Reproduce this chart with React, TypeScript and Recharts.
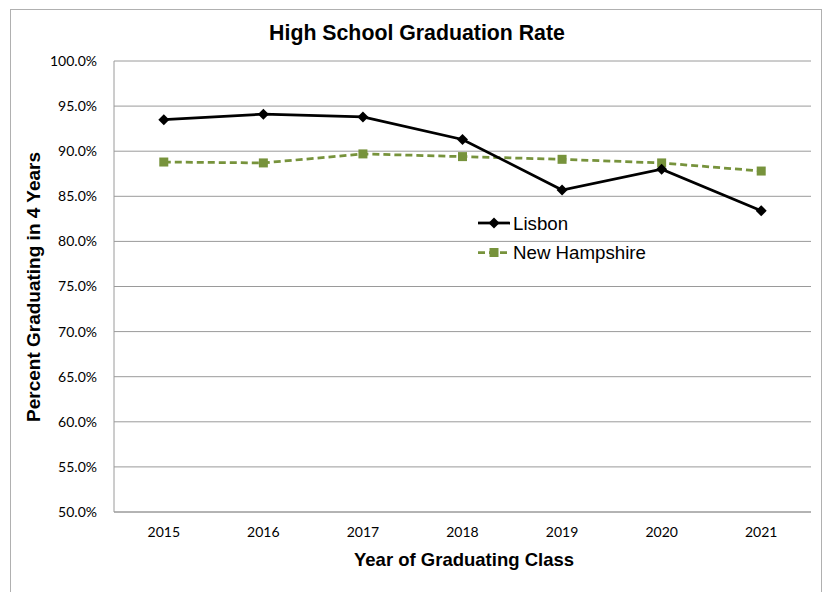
import React from "react";
import { LineChart, Line, XAxis, YAxis, CartesianGrid } from "recharts";

const years = ["2015", "2016", "2017", "2018", "2019", "2020", "2021"];
const lisbon = [93.5, 94.1, 93.8, 91.3, 85.7, 88.0, 83.4];
const newHampshire = [88.8, 88.7, 89.7, 89.4, 89.1, 88.7, 87.8];
const yTicks = [50, 55, 60, 65, 70, 75, 80, 85, 90, 95, 100];

const data = years.map((y, i) => ({ year: y, Lisbon: lisbon[i], NH: newHampshire[i] }));

const GREEN = "#77933C";
const ARIAL = "'Liberation Sans', Arial, sans-serif";

const Diamond = (props: any) => {
  const { cx, cy } = props;
  if (cx == null || cy == null) return null;
  const r = 5.5;
  return <polygon points={`${cx},${cy - r} ${cx + r},${cy} ${cx},${cy + r} ${cx - r},${cy}`} fill="#000" />;
};

const Square = (props: any) => {
  const { cx, cy } = props;
  if (cx == null || cy == null) return null;
  const s = 9;
  return <rect x={cx - s / 2} y={cy - s / 2} width={s} height={s} fill={GREEN} />;
};

const LegendContent = () => (
  <svg width={200} height={60} style={{ overflow: "visible", display: "block" }}>
    <line x1={1} y1={13} x2={33} y2={13} stroke="#000" strokeWidth={2.75} />
    <polygon points="17,7.5 22.5,13 17,18.5 11.5,13" fill="#000" />
    <text x={36} y={19.5} fontFamily={ARIAL} fontSize={18.7} fill="#000">Lisbon</text>
    <line x1={1} y1={42.5} x2={33} y2={42.5} stroke={GREEN} strokeWidth={2.75} strokeDasharray="7 4" />
    <rect x={12.5} y={38} width={9} height={9} fill={GREEN} />
    <text x={36} y={48.8} fontFamily={ARIAL} fontSize={18.7} fill="#000">New Hampshire</text>
  </svg>
);

export default function App() {
  return (
    <div style={{ position: "absolute", left: 0, top: 0, width: 827, height: 592, background: "#fff", overflow: "hidden" }}>
      <div style={{ position: "absolute", left: 10, top: 9, width: 812, height: 600, border: "1px solid #b0b0b0", boxSizing: "border-box" }} />
      <div style={{ position: "absolute", left: 0, top: 0 }}>
        <LineChart width={827} height={592} data={data} margin={{ top: 61, right: 16, bottom: 50, left: 54 }}>
          <text x={417} y={40} textAnchor="middle" fontFamily={ARIAL} fontWeight="bold" fontSize={21.3} fill="#000">
            High School Graduation Rate
          </text>
          <text x={464} y={566} textAnchor="middle" fontFamily={ARIAL} fontWeight="bold" fontSize={18.5} fill="#000">
            Year of Graduating Class
          </text>
          <text x={40} y={287} transform="rotate(-90, 40, 287)" textAnchor="middle" fontFamily={ARIAL} fontWeight="bold" fontSize={19} fill="#000">
            Percent Graduating in 4 Years
          </text>
          <CartesianGrid vertical={false} stroke="#9a9a9a" strokeWidth={1} />
          <XAxis
            dataKey="year"
            scale="band"
            stroke="#9a9a9a"
            tickLine={false}
            tickSize={0}
            tickMargin={15}
            tick={{ fill: "#000", fontSize: 14, fontFamily: "Lato" }}
          />
          <YAxis
            domain={[50, 100]}
            ticks={yTicks}
            width={60}
            stroke="#9a9a9a"
            tickLine={false}
            tickSize={0}
            tickMargin={17}
            tickFormatter={(v: number) => `${v.toFixed(1)}%`}
            tick={{ fill: "#000", fontSize: 14, fontFamily: "Lato" }}
            interval={0}
          />
          <Line
            type="linear"
            dataKey="NH"
            name="New Hampshire"
            stroke={GREEN}
            strokeWidth={2.75}
            strokeDasharray="7 4"
            dot={<Square />}
            activeDot={false}
            isAnimationActive={false}
          />
          <Line
            type="linear"
            dataKey="Lisbon"
            name="Lisbon"
            stroke="#000"
            strokeWidth={2.75}
            dot={<Diamond />}
            activeDot={false}
            isAnimationActive={false}
          />
        </LineChart>
      </div>
      <div style={{ position: "absolute", left: 477, top: 210 }}>
        <LegendContent />
      </div>
    </div>
  );
}
